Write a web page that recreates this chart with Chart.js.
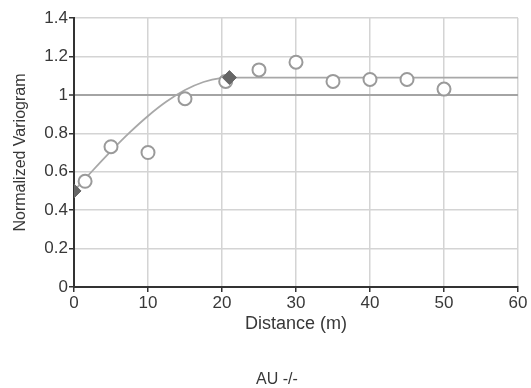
<!DOCTYPE html>
<html>
<head>
<meta charset="utf-8">
<script src="https://cdn.jsdelivr.net/npm/chart.js@4"></script>
<style>
  html, body { margin: 0; padding: 0; background: #fff; }
  #wrap { width: 531px; height: 388px; }
</style>
</head>
<body>
<div id="wrap"><canvas id="chart"></canvas></div>
<script>
// experimental variogram (lag distance in m, normalized gamma)
const lagDistances = [1.5, 5, 10, 15, 20.5, 25, 30, 35, 40, 45, 50];
const gammaValues = [0.55, 0.73, 0.70, 0.98, 1.07, 1.13, 1.17, 1.07, 1.08, 1.08, 1.03];

// fitted model curve
const modelDistances = [0, 2.5, 5, 7.5, 10, 12.5, 15, 17.5, 20, 21, 60];
const modelValues = [0.5, 0.605, 0.707, 0.803, 0.89, 0.965, 1.025, 1.067, 1.088, 1.09, 1.09];

// nugget and range/sill markers
const markerDistances = [0, 21];
const markerValues = [0.5, 1.09];

const xTicks = [0, 10, 20, 30, 40, 50, 60];
const yTicks = [0, 0.2, 0.4, 0.6, 0.8, 1, 1.2, 1.4];

const TEXT = '#383838';
const FONT = 'Arial, "Liberation Sans", sans-serif';

const toXY = (xs, ys) => xs.map((x, i) => ({ x, y: ys[i] }));

const footerLabel = {
  id: 'footerLabel',
  afterDraw(chart) {
    const ctx = chart.ctx;
    ctx.save();
    ctx.font = '16px ' + FONT;
    ctx.fillStyle = TEXT;
    ctx.textAlign = 'center';
    ctx.textBaseline = 'middle';
    ctx.fillText('AU -/-', 277, 380);
    ctx.restore();
  }
};

new Chart(document.getElementById('chart'), {
  type: 'scatter',
  data: {
    datasets: [
      {
        data: toXY(markerDistances, markerValues),
        pointStyle: 'rectRot', pointRadius: 7,
        backgroundColor: '#666', borderColor: '#666', borderWidth: 1,
        clip: 0, order: 0
      },
      {
        data: toXY(lagDistances, gammaValues),
        pointStyle: 'circle', pointRadius: 6.5,
        backgroundColor: '#fff', borderColor: '#9a9a9a', borderWidth: 2,
        order: 1
      },
      {
        data: toXY(modelDistances, modelValues),
        showLine: true, pointRadius: 0,
        borderColor: '#a8a8a8', borderWidth: 1.8,
        cubicInterpolationMode: 'monotone',
        order: 2
      }
    ]
  },
  options: {
    responsive: true, maintainAspectRatio: false, animation: false,
    layout: { padding: { top: 18, right: 13, left: 0, bottom: 46 } },
    plugins: { legend: { display: false }, tooltip: { enabled: false } },
    scales: {
      x: {
        type: 'linear', min: 0, max: 60,
        afterBuildTicks: s => { s.ticks = xTicks.map(v => ({ value: v })); },
        afterFit: s => { s.height = 55; },
        ticks: { color: TEXT, font: { family: FONT, size: 17 }, padding: 1, maxRotation: 0 },
        grid: { color: '#d4d4d4', lineWidth: 1.5, tickColor: '#333', tickLength: 5, tickWidth: 1.5 },
        border: { color: '#333', width: 2 },
        title: { display: true, text: 'Distance (m)', color: TEXT, font: { family: FONT, size: 18 }, padding: { top: 0, bottom: 7 } }
      },
      y: {
        type: 'linear', min: 0, max: 1.4,
        afterBuildTicks: s => { s.ticks = yTicks.map(v => ({ value: v })); },
        afterFit: s => { s.width = 74; },
        ticks: { color: TEXT, font: { family: FONT, size: 17 }, padding: 1, callback: v => String(+v.toFixed(1)) },
        grid: {
          color: c => (c.tick && c.tick.value === 1 ? '#a4a4a4' : '#d4d4d4'),
          lineWidth: c => (c.tick && c.tick.value === 1 ? 2 : 1.5),
          tickColor: '#333', tickLength: 5, tickWidth: 1.5
        },
        border: { color: '#333', width: 2 },
        title: { display: true, text: 'Normalized Variogram', color: TEXT, font: { family: FONT, size: 16 }, padding: { top: 11, bottom: 0 } }
      }
    }
  },
  plugins: [footerLabel]
});
</script>
</body>
</html>
